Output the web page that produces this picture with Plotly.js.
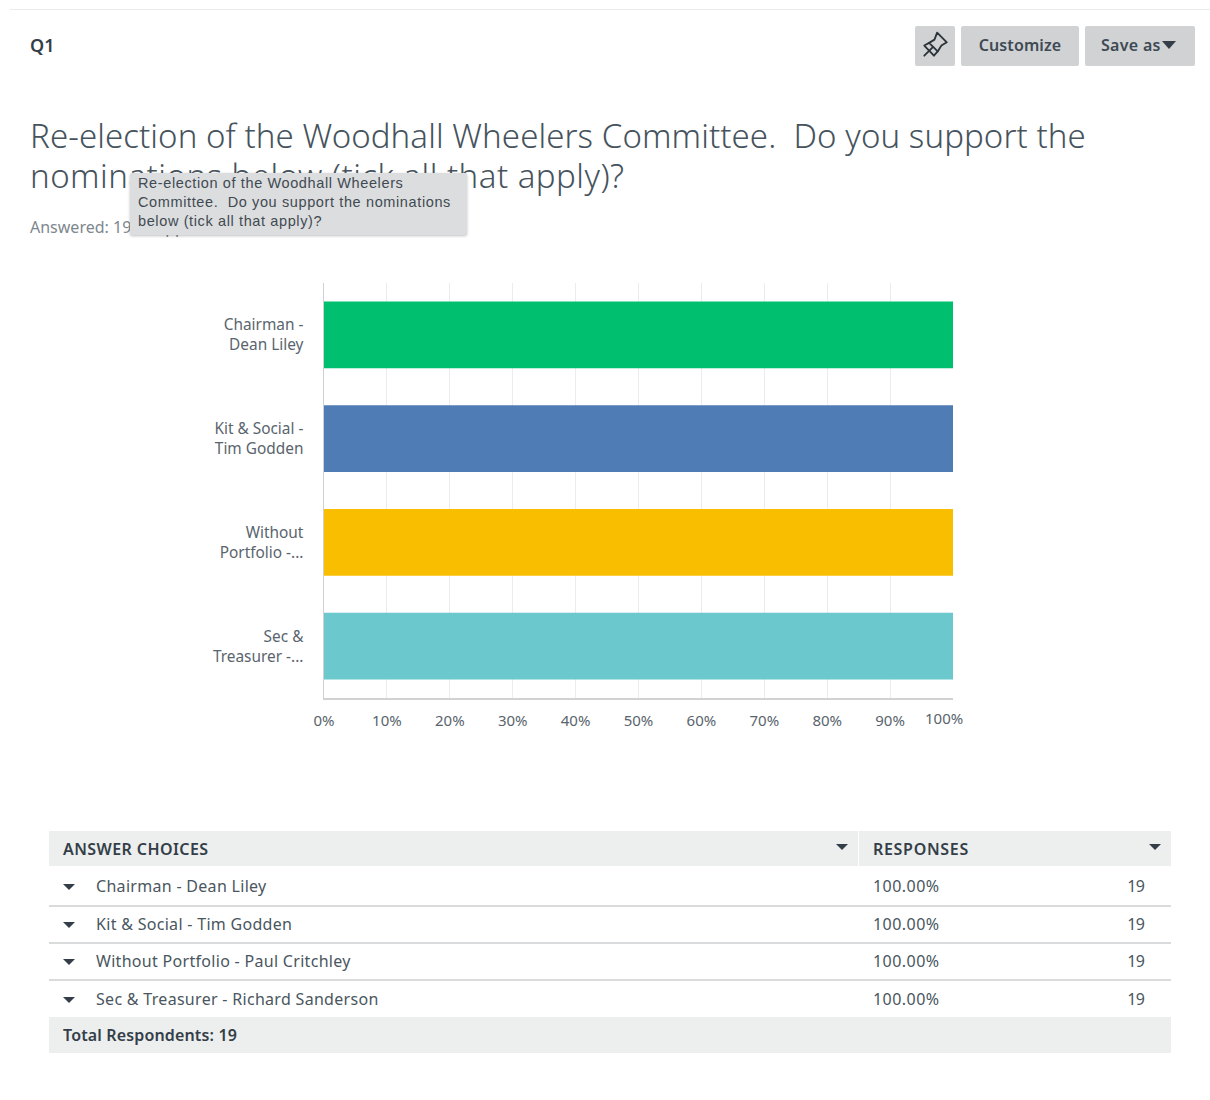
<!DOCTYPE html>
<html><head><meta charset="utf-8">
<script src="https://cdn.plot.ly/plotly-3.0.1.min.js"></script>
<style>
html,body{margin:0;padding:0;background:#fff;width:1210px;height:1100px;overflow:hidden}
body{font-family:"Noto Sans",sans-serif;color:#333e48}
#plot{position:absolute;left:0;top:0;width:1210px;height:1100px}
.a{position:absolute;white-space:pre}
.btn{position:absolute;top:26px;height:40px;background:#d0d2d3;border-radius:2px;font-size:16px;font-weight:600;line-height:39px;text-align:center;color:#3e4a54;letter-spacing:.1px}
.tri{position:absolute;width:0;height:0;border-left:6.5px solid transparent;border-right:6.5px solid transparent;border-top:6.5px solid #333e48}
.band{position:absolute;left:49px;width:1122px;background:#edeeee}
.sep{position:absolute;left:49px;width:1122px;height:2px;background:#d9dbdc}
.cell{font-size:16px;color:#4a5660;line-height:20px;letter-spacing:.3px}
.head{font-size:16px;font-weight:600;color:#333e48;line-height:20px}
</style></head><body>
<div id="plot"></div>
<div id="page"></div>
<script>
const categories = ["Chairman -<br>Dean Liley", "Kit & Social -<br>Tim Godden", "Without<br>Portfolio -...", "Sec &<br>Treasurer -..."];
const percentValues = [100, 100, 100, 100];
const barColors = ["#00bf6f", "#507cb6", "#f9be00", "#6bc8cd"];
const tickValues = [0, 10, 20, 30, 40, 50, 60, 70, 80, 90, 100];
const tickLabels = ["0%", "10%", "20%", "30%", "40%", "50%", "60%", "70%", "80%", "90%", ""];
const lastTickLabel = "100%";
const answerChoices = ["Chairman - Dean Liley", "Kit & Social - Tim Godden", "Without Portfolio - Paul Critchley", "Sec & Treasurer - Richard Sanderson"];
const responsePercents = ["100.00%", "100.00%", "100.00%", "100.00%"];
const responseCounts = [19, 19, 19, 19];

const tickFont = {family:'"Noto Sans",sans-serif', size:15, color:'#59646d'};
const catFont = {family:'"Noto Sans",sans-serif', size:15.4, color:'#59646d'};
Plotly.newPlot('plot', [{
  type:'bar', orientation:'h', x:percentValues, y:categories,
  marker:{color:barColors, line:{width:0}}, hoverinfo:'skip'
}], {
  width:1210, height:1100, autosize:false, showlegend:false,
  margin:{l:324, r:257, t:283, b:402, pad:0},
  paper_bgcolor:'rgba(0,0,0,0)', plot_bgcolor:'#fff', bargap:0.355,
  xaxis:{range:[0,100], fixedrange:true, tickmode:'array', tickvals:tickValues, ticktext:tickLabels,
    showgrid:true, gridcolor:'#ececec', gridwidth:1, zeroline:false, showline:true, linecolor:'#cfd1d2', linewidth:1.5,
    ticks:'', tickfont:tickFont, ticklabelstandoff:8, mirror:false},
  yaxis:{autorange:'reversed', fixedrange:true, showgrid:false, zeroline:false, showline:true, linecolor:'#cfd1d2', linewidth:1.5,
    ticks:'', tickfont:catFont, ticklabelstandoff:16},
  annotations:[{xref:'x', yref:'paper', x:100, y:0, xshift:-9, yshift:-20, yanchor:'middle', showarrow:false, text:lastTickLabel, font:tickFont}]
}, {displayModeBar:false, staticPlot:true});

let h = '';
const txt = (x,y,s,cls,extra='') => `<div class="a ${cls}" style="left:${x}px;top:${y}px;${extra}">${s}</div>`;
h += `<div style="position:absolute;left:10px;top:9px;width:1200px;height:1px;background:#e9eaea"></div>`;
h += txt(30,32,'Q1','', 'font-size:18px;font-weight:600;color:#333e48;line-height:26px');
const titleStyle = 'font-size:33px;font-weight:300;color:#46535d;line-height:45px;';
h += txt(30,113,'Re-election of the Woodhall Wheelers Committee.  Do you support the','', titleStyle+'letter-spacing:.08px');
h += txt(30,153,'nominations below (tick all that apply)?','', titleStyle+'letter-spacing:.48px');
h += txt(30,217,'Answered: 19   Skipped: 0','', 'font-size:16px;color:#7d878e;line-height:20px');
h += `<div style="position:absolute;left:130px;top:173px;width:337px;height:62px;background:#dcddde;border-radius:2px;box-shadow:0 1px 3px rgba(0,0,0,.25)"></div>`;
["Re-election of the Woodhall Wheelers","Committee.  Do you support the nominations","below (tick all that apply)?"].forEach((s,i)=>{
  h += txt(138,174+i*19,s,'', 'font-family:\'Liberation Sans\',sans-serif;font-size:14.5px;color:#3f4a52;line-height:19px;letter-spacing:.62px');
});
h += `<div class="btn" style="left:915px;width:40px"><svg width="30" height="30" viewBox="0 0 28 28" style="margin-top:4px" fill="none" stroke="#2b343b" stroke-width="1.7" stroke-linejoin="round" stroke-linecap="round"><path d="M16 2.5 L25 11.5 L20 14.5 L16.5 20 L8.5 12 L13.5 9 Z"/><path d="M12 16 L4 24"/><path d="M8.5 12 L4 14.5 L13 24 L16.5 20"/></svg></div>`;
h += `<div class="btn" style="left:961px;width:118px">Customize</div>`;
h += `<div class="btn" style="left:1085px;width:110px;text-align:left;text-indent:16px;letter-spacing:.3px">Save as</div>`;
h += `<div class="tri" style="left:1162px;top:41px;border-left-width:7.5px;border-right-width:7.5px;border-top-width:8px"></div>`;
h += `<div class="band" style="top:831px;height:35px"></div>`;
h += `<div style="position:absolute;left:858px;top:831px;width:1px;height:35px;background:#fff"></div>`;
h += txt(63,839,'ANSWER CHOICES','head','letter-spacing:.42px') + txt(873,839,'RESPONSES','head','letter-spacing:.7px');
h += `<div class="tri" style="left:836px;top:844px"></div><div class="tri" style="left:1149px;top:844px"></div>`;
const rowY = [886, 924, 961, 998.5];
answerChoices.forEach((c,i)=>{
  const y = rowY[i];
  h += `<div class="tri" style="left:63px;top:${y-2}px;border-top-width:6px"></div>`;
  h += txt(96,y-10,c.replace('&','&amp;'),'cell');
  h += txt(873,y-10,responsePercents[i],'cell','letter-spacing:.45px');
  h += `<div class="a cell" style="left:1100px;width:44px;top:${y-10}px;text-align:right;letter-spacing:-.8px">${responseCounts[i]}</div>`;
  if(i<3) h += `<div class="sep" style="top:${[905,942,979][i]}px"></div>`;
});
h += `<div class="band" style="top:1017px;height:35.5px"></div>`;
h += txt(63,1025,'Total Respondents: 19','head','letter-spacing:.15px');
document.getElementById('page').innerHTML = h;
</script>
</body></html>
